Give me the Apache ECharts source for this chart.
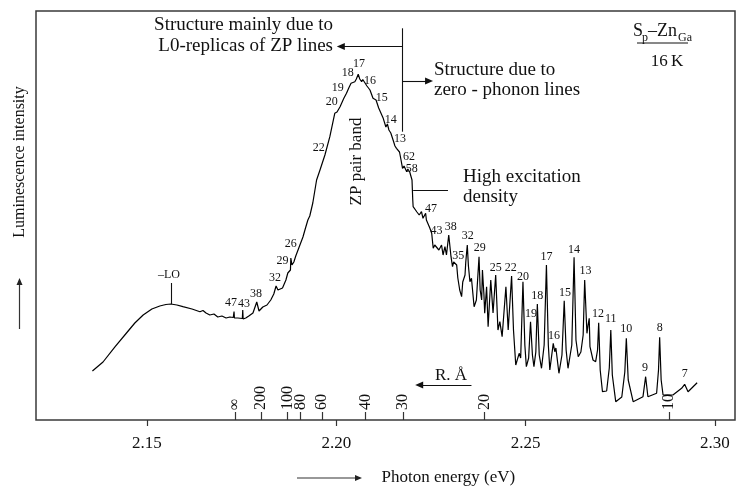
<!DOCTYPE html>
<html>
<head>
<meta charset="utf-8">
<script src="https://cdn.jsdelivr.net/npm/echarts@6/dist/echarts.min.js"></script>
<style>
html,body{margin:0;padding:0;background:#fff;}
#chart{width:741px;height:487px;}
</style>
</head>
<body>
<div id="chart"></div>
<script>
// Photon energy (eV) of each sampled point of the S_p–Zn_Ga spectrum at 16 K
const energy = [
  2.1356, 2.1384, 2.1416, 2.1446, 2.1468, 2.1490, 2.1513, 2.1534, 2.1550, 2.1563,
  2.1579, 2.1595, 2.1619, 2.1640, 2.1648, 2.1656, 2.1666, 2.1677, 2.1687, 2.1698,
  2.1709, 2.1719, 2.1728, 2.1730, 2.1731, 2.1740, 2.1752, 2.1753, 2.1754, 2.1761,
  2.1769, 2.1780, 2.1790, 2.1796, 2.1806, 2.1817, 2.1827, 2.1835, 2.1841, 2.1846,
  2.1858, 2.1867, 2.1872, 2.1879, 2.1880, 2.1883, 2.1888, 2.1893, 2.1901, 2.1912,
  2.1918, 2.1925, 2.1930, 2.1938, 2.1948, 2.1957, 2.1970, 2.1983, 2.1996, 2.2002,
  2.2010, 2.2020, 2.2027, 2.2033, 2.2039, 2.2044, 2.2049, 2.2053, 2.2058, 2.2062,
  2.2067, 2.2070, 2.2074, 2.2081, 2.2089, 2.2097, 2.2105, 2.2112, 2.2124, 2.2131,
  2.2135, 2.2139, 2.2144, 2.2150, 2.2155, 2.2159, 2.2163, 2.2167, 2.2171, 2.2175,
  2.2179, 2.2186, 2.2189, 2.2194, 2.2200, 2.2202, 2.2203, 2.2208, 2.2213, 2.2219,
  2.2225, 2.2229, 2.2236, 2.2238, 2.2242, 2.2247, 2.2252, 2.2256, 2.2260, 2.2265,
  2.2271, 2.2278, 2.2282, 2.2287, 2.2291, 2.2297, 2.2303, 2.2307, 2.2310, 2.2318,
  2.2321, 2.2326, 2.2331, 2.2334, 2.2340, 2.2342, 2.2346, 2.2349, 2.2353, 2.2357,
  2.2364, 2.2370, 2.2377, 2.2380, 2.2384, 2.2386, 2.2390, 2.2392, 2.2397, 2.2401,
  2.2408, 2.2414, 2.2421, 2.2427, 2.2432, 2.2438, 2.2448, 2.2454, 2.2463, 2.2468,
  2.2474, 2.2483, 2.2487, 2.2493, 2.2498, 2.2502, 2.2508, 2.2513, 2.2518, 2.2522,
  2.2527, 2.2531, 2.2536, 2.2542, 2.2549,
  2.2555, 2.2560, 2.2564, 2.2573, 2.2577, 2.2580, 2.2588, 2.2596, 2.2602, 2.2607,
  2.2612, 2.2622, 2.2628, 2.2633, 2.2639, 2.2646, 2.2652, 2.2656, 2.2662, 2.2665,
  2.2668, 2.2670, 2.2678, 2.2685, 2.2690, 2.2693, 2.2697, 2.2703, 2.2714, 2.2721,
  2.2725, 2.2729, 2.2738, 2.2754, 2.2762, 2.2766, 2.2771, 2.2784, 2.2810, 2.2817,
  2.2823, 2.2846, 2.2851, 2.2854, 2.2858, 2.2863, 2.2889, 2.2912, 2.2916, 2.2920,
  2.2929, 2.2953
];
// Luminescence intensity (arbitrary units) at each energy above
const intensity = [
  49, 58, 73.3, 87, 97, 105, 111, 114, 115.5, 116,
  115, 113.3, 111, 108.3, 109.5, 107, 105, 106, 103, 104,
  102, 103, 102.5, 108.5, 102, 102, 101.5, 110, 101, 102,
  104, 107, 118, 109, 113, 115, 120, 126, 134, 130,
  132, 140, 147, 150, 162, 155, 158, 164, 172, 183,
  191, 200, 204, 217, 240, 250, 265, 283.3, 306.7, 308,
  313.3, 321.7, 326.7, 332, 336.7, 335, 338.3, 341, 345.7, 341,
  338.3, 340.5, 340, 334, 330, 321.7, 320, 312, 301.7, 293,
  296, 290, 287, 280, 274, 271.7, 273, 268, 260, 251.7,
  254, 248.3, 251, 248, 240, 220, 213.3, 215, 208, 205,
  208.3, 201.7, 206.7, 200, 198, 192, 186.7, 171.7, 175, 176.7,
  170, 175, 165, 173.3, 165, 185, 163.3, 153.3, 158, 155,
  142, 130, 123.3, 138, 145, 158, 175, 154, 138.3, 141.7,
  113.3, 120, 163.3, 130, 120, 150, 125, 106.7, 133.3, 93.3,
  140, 107, 145, 90, 98.3, 83.3, 133.3, 90, 144, 90,
  55, 66.7, 62, 138.3, 75, 53.3, 62, 98.3, 65, 53.3,
  68, 116, 65, 51.7, 75,
  155, 75, 50, 76.7, 68.3, 72, 46.7, 65, 119.3, 70,
  51.7, 75, 162.7, 80, 63.3, 68, 85, 140, 86.7, 95,
  101.7, 73.3, 60, 58.3, 70, 97.3, 50, 28.3, 29, 52,
  90, 45, 18.3, 23, 48, 81.7, 40, 18.3, 23.3, 43.3,
  23.3, 26.7, 50, 82.7, 40, 25, 25, 31.7, 33, 35.7,
  28.3, 37.3
];

// Line numbers (pair shells) written beside the spectrum
const peakText = [
  '–LO', '47', '43', '38', '32', '29', '26', '22', '20', '19', '18', '17', '16', '15', '14', '13', '62', '58',
  '47', '43', '38', '35', '32', '29', '25', '22', '20', '19', '18', '17', '16', '15', '14', '13', '12', '11', '10', '9', '8', '7'
];
const peakTextE = [
  2.1558, 2.1722, 2.1756, 2.1788, 2.1838, 2.1858, 2.1880, 2.1954, 2.1988, 2.2004, 2.2030, 2.2060, 2.2089, 2.2120, 2.2144, 2.2168, 2.2192, 2.2199,
  2.2250, 2.2265, 2.2302, 2.2322, 2.2347, 2.2379, 2.2421, 2.2461, 2.2493, 2.2514, 2.2531, 2.2555, 2.2575, 2.2604, 2.2628, 2.2658, 2.2691, 2.2725, 2.2766, 2.2815, 2.2854, 2.2920
];
const peakTextI = [
  145, 117, 116, 126, 142.3, 159, 176, 272, 318, 332.3, 346.7, 355.7, 339.3, 322.3, 300, 280.7, 263.3, 251,
  211, 189, 193.3, 164, 184, 171.7, 151.7, 151.7, 143.3, 106, 124, 163.3, 84, 127.3, 170, 149.3, 106, 100.7, 90.7, 51.7, 91.7, 45.7
];

// Photon energy axis ticks (eV)
const energyTicks = [2.15, 2.20, 2.25, 2.30];
// Pair separation R (Å) scale and the energies where each R falls
const rLabels = ['∞', '200', '100', '80', '60', '40', '30', '20', '10'];
const rEnergy = [2.1732, 2.1801, 2.1871, 2.1906, 2.1962, 2.2077, 2.2176, 2.2391, 2.2879];

const serif = '"Liberation Serif", "Times New Roman", serif';
const ink = '#111';
const xMin = 2.1207, xMax = 2.3053;

const spectrum = energy.map((e, i) => [e, intensity[i]]);
const peakLabels = peakText.map((t, i) => [peakTextE[i], peakTextI[i], t]);

function rName(v) {
  let best = 0;
  for (let i = 1; i < rEnergy.length; i++) {
    if (Math.abs(rEnergy[i] - v) < Math.abs(rEnergy[best] - v)) best = i;
  }
  return rLabels[best];
}

function seg(a, b, arrowAtEnd) {
  return [
    { coord: a, symbol: 'none' },
    { coord: b, symbol: arrowAtEnd ? 'triangle' : 'none' }
  ];
}

function txt(x, y, text, size, align, extra) {
  return Object.assign({
    type: 'text', x: x, y: y, silent: true,
    style: {
      text: text, fontFamily: serif, fontSize: size, fill: ink,
      align: align, verticalAlign: 'middle',
      textAlign: align, textVerticalAlign: 'middle'
    }
  }, extra || {});
}

const chart = echarts.init(document.getElementById('chart'), null, { renderer: 'canvas' });

chart.setOption({
  animation: false,
  backgroundColor: '#ffffff',
  grid: {
    left: 36, right: 6, top: 11, bottom: 67,
    show: true, borderColor: '#3a3a3a', borderWidth: 1.5, backgroundColor: 'transparent'
  },
  xAxis: [
    {
      type: 'value', min: xMin, max: xMax,
      axisLine: { show: false },
      splitLine: { show: false },
      axisTick: { show: true, length: 6, customValues: energyTicks, lineStyle: { color: '#333', width: 1.2 } },
      axisLabel: {
        customValues: energyTicks, formatter: v => v.toFixed(2),
        fontFamily: serif, fontSize: 17, color: ink, margin: 15
      }
    },
    {
      type: 'value', position: 'bottom', min: xMin, max: xMax,
      axisLine: { show: false },
      splitLine: { show: false },
      axisTick: { show: true, inside: true, length: 8, customValues: rEnergy, lineStyle: { color: '#333', width: 1.2 } },
      axisLabel: {
        show: true, inside: true, rotate: 90, customValues: rEnergy, formatter: v => rName(v),
        fontFamily: serif, fontSize: 16, color: ink, margin: 10
      }
    }
  ],
  yAxis: { type: 'value', min: 0, max: 409, show: false },
  series: [
    {
      type: 'line',
      xAxisIndex: 0,
      data: spectrum,
      symbol: 'none',
      showSymbol: false,
      silent: true,
      lineStyle: { color: '#000', width: 1.2 },
      markLine: {
        silent: true,
        symbol: ['none', 'none'],
        symbolSize: [7, 8],
        label: { show: false },
        lineStyle: { color: ink, width: 1.1, type: 'solid' },
        emphasis: { disabled: true },
        data: [
          seg([2.1563, 116], [2.1563, 137], false),
          seg([2.2175, 391.7], [2.2175, 288.3], false),
          seg([2.2175, 373.5], [2.2012, 373.5], true),
          seg([2.2175, 339], [2.2245, 339], true),
          seg([2.2203, 230], [2.2295, 230], false),
          seg([2.2357, 35], [2.2219, 35], true)
        ]
      }
    },
    {
      type: 'scatter',
      xAxisIndex: 0,
      data: peakLabels,
      symbolSize: 0,
      silent: true,
      itemStyle: { color: '#000' },
      label: {
        show: true, position: 'inside', formatter: p => p.data[2],
        fontFamily: serif, fontSize: 12, color: ink,
        textBorderWidth: 0, textBorderColor: 'transparent', opacity: 1
      }
    }
  ],
  graphic: [
    txt(333, 25, 'Structure mainly due to', 19, 'right'),
    txt(333, 46.5, 'L0-replicas of ZP lines', 19, 'right'),
    txt(434, 70, 'Structure due to', 19, 'left'),
    txt(434, 90, 'zero - phonon lines', 19, 'left'),
    txt(463, 177, 'High excitation', 19, 'left'),
    txt(463, 197, 'density', 19, 'left'),
    txt(356.5, 161.5, 'ZP pair band', 17, 'center', { rotation: Math.PI / 2 }),
    // S_p–Zn_Ga over 16 K
    txt(633, 31, 'S', 18, 'left'),
    txt(642, 38, 'p', 12, 'left'),
    txt(648, 31, '–Zn', 18, 'left'),
    txt(678, 38, 'Ga', 12, 'left'),
    { type: 'line', silent: true, shape: { x1: 637, y1: 43, x2: 688, y2: 43 }, style: { stroke: ink, lineWidth: 1 } },
    txt(667, 61.5, '16\u2009K', 17, 'center'),
    txt(451, 376, 'R. Å', 17, 'center'),
    // axis titles with direction arrows
    txt(19.5, 162, 'Luminescence intensity', 16, 'center', { rotation: Math.PI / 2 }),
    { type: 'line', silent: true, shape: { x1: 19.5, y1: 329, x2: 19.5, y2: 284 }, style: { stroke: '#333', lineWidth: 1.2 } },
    { type: 'polygon', silent: true, shape: { points: [[19.5, 278], [16.5, 285], [22.5, 285]] }, style: { fill: '#222' } },
    txt(381.5, 478, 'Photon energy (eV)', 17, 'left'),
    { type: 'line', silent: true, shape: { x1: 297, y1: 478, x2: 356, y2: 478 }, style: { stroke: '#333', lineWidth: 1.2 } },
    { type: 'polygon', silent: true, shape: { points: [[362, 478], [355, 475], [355, 481]] }, style: { fill: '#222' } }
  ]
});
</script>
</body>
</html>
